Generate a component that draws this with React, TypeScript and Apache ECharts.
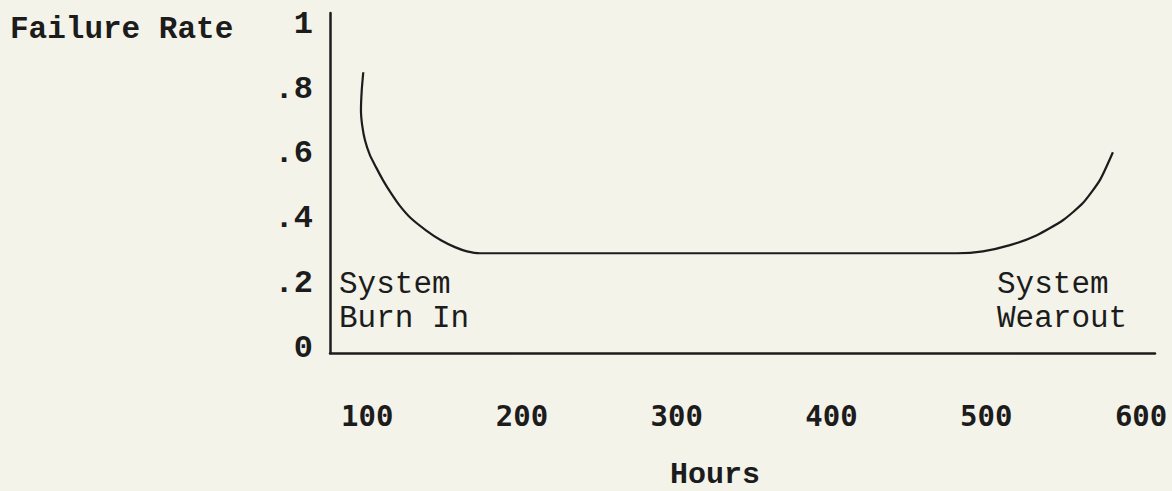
import React, { useEffect, useRef } from "react";
import * as echarts from "echarts";

// Tick values and labels
const xTickValues = [100, 200, 300, 400, 500, 600];
const xTickLabels = ["100", "200", "300", "400", "500", "600"];
const yTickValues = [0, 0.2, 0.4, 0.6, 0.8, 1];
const yTickLabels = ["0", ".2", ".4", ".6", ".8", "1"];

// Bathtub curve (hours, failure rate)
const hours = [97.5, 96.5, 96.0, 96.8, 98.6, 101.8, 105.7, 110.2, 115.1, 120.9, 128.3, 138.0, 147.7, 156.7, 164.5, 172.9, 481, 497.8, 515.3, 532.7, 549.5, 562.4, 573.4, 581.8];
const failureRate = [0.852, 0.796, 0.735, 0.688, 0.642, 0.596, 0.559, 0.519, 0.481, 0.441, 0.401, 0.364, 0.333, 0.312, 0.299, 0.293, 0.293, 0.299, 0.318, 0.349, 0.395, 0.448, 0.519, 0.605];

const yAxisTitle = "Failure Rate";
const xAxisTitle = "Hours";
const noteLeft = ["System", "Burn In"];
const noteRight = ["System", "Wearout"];

const INK = "#1c1c1c";
const BG = "#f3f3ea";
const TYPE = "'Liberation Mono', 'Courier New', monospace";
const DOT = "'DejaVu Sans Mono', monospace";

export default function App() {
  const ref = useRef<HTMLDivElement>(null);
  useEffect(() => {
    if (!ref.current) return;
    const chart = echarts.init(ref.current, null, { renderer: "svg" });
    const labelFor = (vals: number[], labels: string[]) => (v: number) => {
      const i = vals.findIndex((t) => Math.abs(t - v) < 1e-6);
      return i >= 0 ? labels[i] : "";
    };
    chart.setOption({
      animation: false,
      backgroundColor: BG,
      grid: { left: 330, right: 17, top: 13, bottom: 138 },
      xAxis: {
        type: "value",
        min: 76,
        max: 609,
        splitLine: { show: false },
        axisTick: { show: false },
        axisLine: { show: true, onZero: false, lineStyle: { color: INK, width: 2.5 } },
        axisLabel: {
          customValues: xTickValues,
          formatter: labelFor(xTickValues, xTickLabels),
          margin: 48,
          color: INK,
          fontFamily: DOT,
          fontWeight: "bold",
          fontSize: 29,
        },
      },
      yAxis: {
        type: "value",
        min: -0.015,
        max: 1.035,
        splitLine: { show: false },
        axisTick: { show: false },
        axisLine: { show: true, onZero: false, lineStyle: { color: INK, width: 2.5 } },
        axisLabel: {
          customValues: yTickValues,
          formatter: labelFor(yTickValues, yTickLabels),
          margin: 17,
          color: INK,
          fontFamily: TYPE,
          fontWeight: "bold",
          fontSize: 32,
        },
      },
      series: [
        {
          type: "line",
          data: hours.map((h, i) => [h, failureRate[i]]),
          smooth: 0.2,
          showSymbol: false,
          lineStyle: { color: INK, width: 2.2 },
        },
      ],
      graphic: [
        {
          type: "text",
          left: 10,
          top: 14,
          style: { text: yAxisTitle, fill: INK, font: `bold 31px ${TYPE}` },
        },
        {
          type: "text",
          x: 715,
          y: 490,
          style: { text: xAxisTitle, fill: INK, font: `bold 30px ${TYPE}`, align: "center", verticalAlign: "bottom" },
        },
        {
          type: "text",
          x: 339,
          y: 284,
          style: { text: noteLeft[0], fill: INK, font: `31px ${TYPE}`, verticalAlign: "middle" },
        },
        {
          type: "text",
          x: 339,
          y: 318,
          style: { text: noteLeft[1], fill: INK, font: `31px ${TYPE}`, verticalAlign: "middle" },
        },
        {
          type: "text",
          x: 997,
          y: 284,
          style: { text: noteRight[0], fill: INK, font: `31px ${TYPE}`, verticalAlign: "middle" },
        },
        {
          type: "text",
          x: 997,
          y: 318,
          style: { text: noteRight[1], fill: INK, font: `31px ${TYPE}`, verticalAlign: "middle" },
        },
      ],
    });
    return () => chart.dispose();
  }, []);
  return (
    <div
      ref={ref}
      style={{ position: "fixed", left: 0, top: 0, width: 1172, height: 491, background: BG }}
    />
  );
}
